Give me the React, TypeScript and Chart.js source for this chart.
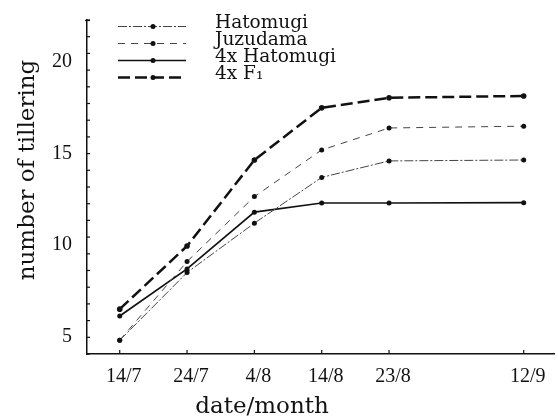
import { useEffect, useRef } from "react";
import { Chart, registerables } from "chart.js";

Chart.register(...registerables);

// ---- data ----
const dateLabels = ["14/7", "24/7", "4/8", "14/8", "23/8", "12/9"];
const sampleSlots = [0, 1, 2, 3, 4, 6];
const seriesNames = ["Hatomugi", "Juzudama", "4x Hatomugi", "4x F\u2081"];
const hatomugi = [4.8, 8.5, 11.2, 13.7, 14.6, 14.65];
const juzudama = [4.8, 9.1, 12.65, 15.2, 16.4, 16.5];
const hatomugi4x = [6.13, 8.7, 11.8, 12.3, 12.3, 12.32];
const f1x4 = [6.5, 9.95, 14.65, 17.5, 18.05, 18.15];
const yTickValues = [5, 10, 15, 20];

const INK = "#111";

const toPoints = (vals: number[]) => vals.map((v, i) => ({ x: sampleSlots[i], y: v }));

const paperPlugin = {
  id: "paper",
  afterDraw(chart: any) {
    const { ctx, chartArea, scales } = chart;
    ctx.save();
    ctx.strokeStyle = INK;
    ctx.lineWidth = 1.2;
    ctx.setLineDash([]);
    // minor ticks on y axis (inward)
    const ym = scales.yMinor;
    for (let v = Math.ceil(ym.min); v <= ym.max + 1e-9; v++) {
      const py = ym.getPixelForValue(v);
      ctx.beginPath();
      ctx.moveTo(chartArea.left, py);
      ctx.lineTo(chartArea.left + 3, py);
      ctx.stroke();
    }
    // top cap of y axis
    ctx.beginPath();
    ctx.moveTo(chartArea.left - 2, chartArea.top + 0.5);
    ctx.lineTo(chartArea.left + 3, chartArea.top + 0.5);
    ctx.stroke();
    // x ticks (inward)
    const xs = scales.x;
    sampleSlots.forEach((s) => {
      const px = xs.getPixelForValue(s);
      ctx.beginPath();
      ctx.moveTo(px, chartArea.bottom);
      ctx.lineTo(px, chartArea.bottom - 4);
      ctx.stroke();
    });

    // legend
    chart.data.datasets.forEach((ds: any, i: number) => {
      const ly = 26.5 + 17 * i;
      ctx.save();
      ctx.strokeStyle = ds.borderColor;
      ctx.lineWidth = ds.borderWidth;
      ctx.setLineDash(ds.borderDash || []);
      ctx.beginPath();
      ctx.moveTo(118, ly);
      ctx.lineTo(186, ly);
      ctx.stroke();
      ctx.setLineDash([]);
      ctx.fillStyle = INK;
      ctx.beginPath();
      ctx.arc(153, ly, 2.5, 0, Math.PI * 2);
      ctx.fill();
      ctx.font = "18.5px 'DejaVu Serif'";
      ctx.textAlign = "left";
      ctx.textBaseline = "alphabetic";
      ctx.fillText(ds.label, 215, ly + 1.5);
      ctx.restore();
    });

    // axis titles
    ctx.fillStyle = INK;
    ctx.font = "23px 'DejaVu Serif'";
    ctx.textAlign = "center";
    ctx.textBaseline = "alphabetic";
    ctx.fillText("date/month", 262, 413);
    ctx.save();
    ctx.translate(34, 170);
    ctx.rotate(-Math.PI / 2);
    ctx.fillText("number of tillering", 0, 0);
    ctx.restore();

    ctx.restore();
  },
};

export default function App() {
  const ref = useRef<HTMLCanvasElement | null>(null);

  useEffect(() => {
    if (!ref.current) return;
    const chart = new Chart(ref.current, {
      type: "line",
      data: {
        datasets: [
          {
            label: seriesNames[0],
            data: toPoints(hatomugi),
            borderColor: "#444",
            borderWidth: 1,
            borderDash: [9, 2, 2, 2],
            pointBackgroundColor: INK,
            pointBorderColor: INK,
            pointRadius: 2.5,
            pointBorderWidth: 0,
            tension: 0,
          },
          {
            label: seriesNames[1],
            data: toPoints(juzudama),
            borderColor: "#444",
            borderWidth: 1,
            borderDash: [7, 6],
            pointBackgroundColor: INK,
            pointBorderColor: INK,
            pointRadius: 2.5,
            pointBorderWidth: 0,
            tension: 0,
          },
          {
            label: seriesNames[2],
            data: toPoints(hatomugi4x),
            borderColor: INK,
            borderWidth: 1.7,
            borderDash: [],
            pointBackgroundColor: INK,
            pointBorderColor: INK,
            pointRadius: 2.5,
            pointBorderWidth: 0,
            tension: 0,
          },
          {
            label: seriesNames[3],
            data: toPoints(f1x4),
            borderColor: INK,
            borderWidth: 2.5,
            borderDash: [12, 5],
            pointBackgroundColor: INK,
            pointBorderColor: INK,
            pointRadius: 2.8,
            pointBorderWidth: 0,
            tension: 0,
          },
        ],
      },
      options: {
        responsive: false,
        animation: false,
        layout: { padding: { top: 20, left: 0, right: 0, bottom: 0 } },
        plugins: { legend: { display: false }, tooltip: { enabled: false } },
        scales: {
          x: {
            type: "linear",
            min: -0.486,
            max: 6.45,
            grid: { drawOnChartArea: false, drawTicks: false },
            border: { display: true, color: INK, width: 1.5 },
            afterBuildTicks: (scale: any) => {
              scale.ticks = sampleSlots.map((v) => ({ value: v }));
            },
            afterFit: (scale: any) => {
              scale.height = 65;
              scale.paddingLeft = 0;
              scale.paddingRight = 0;
            },
            ticks: {
              padding: 11,
              labelOffset: 4,
              maxRotation: 0,
              autoSkip: false,
              color: INK,
              font: { family: "'Liberation Serif'", size: 20 },
              callback: (value: any) => {
                const idx = sampleSlots.indexOf(Number(value));
                return idx >= 0 ? dateLabels[idx] : "";
              },
            },
          },
          y: {
            type: "linear",
            position: "left",
            min: 4.05,
            max: 22.3,
            grid: { drawOnChartArea: false, drawTicks: false },
            border: { display: true, color: INK, width: 1.5 },
            afterBuildTicks: (scale: any) => {
              scale.ticks = yTickValues.map((v) => ({ value: v }));
            },
            afterFit: (scale: any) => {
              scale.width = 87;
              scale.paddingTop = 0;
              scale.paddingBottom = 0;
            },
            ticks: {
              padding: 15,
              color: INK,
              font: { family: "'Liberation Serif'", size: 20 },
            },
          },
          yMinor: {
            type: "linear",
            position: "left",
            display: false,
            min: -1,
            max: 19,
          },
        },
      },
      plugins: [paperPlugin],
    });
    return () => chart.destroy();
  }, []);

  return (
    <div style={{ position: "absolute", left: 0, top: 0, width: 558, height: 419, background: "#fff" }}>
      <canvas ref={ref} width={558} height={419} style={{ display: "block" }} />
    </div>
  );
}
